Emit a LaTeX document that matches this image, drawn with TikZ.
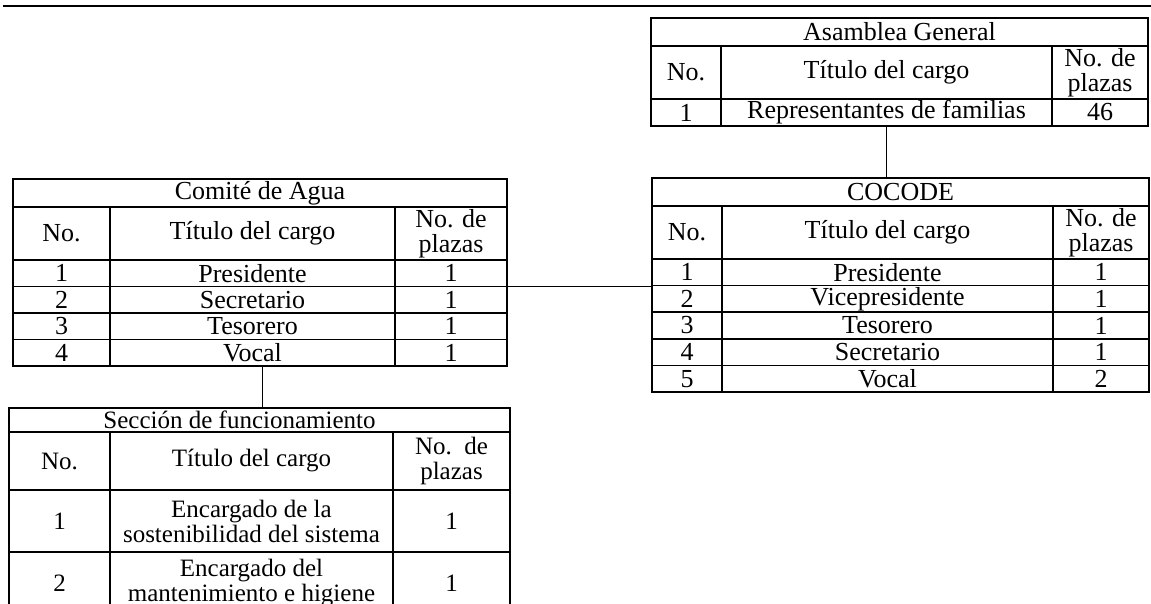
\documentclass[tikz,border=0pt]{standalone}
\usepackage{fontspec}
\setmainfont{Liberation Serif}
\newcommand\setcols[4]{\def\cA{#1}\def\cB{#2}\def\cC{#3}\def\cD{#4}}
\newcommand\tabtitle[4]{% name, ytop, height, text
  \node[cell,minimum width={(\cD-\cA)*1pt},minimum height={#3*1pt}] (#1) at (\cA,#2) {#4};}
\newcommand\tabrow[6]{% name, ytop, height, c1, c2, c3
  \node[cell,minimum width={(\cB-\cA)*1pt},minimum height={#3*1pt}] (#1-1) at (\cA,#2) {#4};
  \node[cell,minimum width={(\cC-\cB)*1pt},minimum height={#3*1pt}] (#1-2) at (\cB,#2) {#5};
  \node[cell,minimum width={(\cD-\cC)*1pt},minimum height={#3*1pt}] (#1-3) at (\cC,#2) {#6};}
\tikzset{
  cell/.style={draw,line width=1.5pt,rectangle,inner sep=0pt,outer sep=0pt,
    anchor=north west,align=center,font=\mainfnt},
  conn/.style={draw,line width=1.5pt},
  rule/.style={draw,line width=2pt},
}
\newcommand\mainfnt{\fontsize{26}{25}\selectfont}
\newcommand\secfnt{\fontsize{25}{25}\selectfont}
\begin{document}
\begin{tikzpicture}[x=1pt,y=-1pt]
\useasboundingbox (0,0) rectangle (1151,604);
\clip (0,0) rectangle (1151,604);
\coordinate (ruleL) at (3,6);
\coordinate (ruleR) at (1151,6);
\draw[rule] (ruleL) -- (ruleR);
% Asamblea General
\setcols{651}{721}{1052}{1148}
\tabtitle{A-t}{18}{28}{Asamblea General}
\tabrow{A-h}{46}{53}{No.}{Título del cargo}{No. de\\plazas}
\tabrow{A-r1}{99}{27}{1}{Representantes de familias}{46}
% COCODE
\setcols{652}{722}{1053}{1149}
\tabtitle{K-t}{178}{28}{COCODE}
\tabrow{K-h}{206}{53}{No.}{Título del cargo}{No. de\\plazas}
\tabrow{K-r1}{259}{26.6}{1}{Presidente}{1}
\tabrow{K-r2}{285.6}{26.6}{2}{Vicepresidente}{1}
\tabrow{K-r3}{312.2}{26.6}{3}{Tesorero}{1}
\tabrow{K-r4}{338.8}{26.6}{4}{Secretario}{1}
\tabrow{K-r5}{365.4}{26.6}{5}{Vocal}{2}
% Comite de Agua
\setcols{13}{110}{395}{507}
\tabtitle{C-t}{179}{28}{Comité de Agua}
\tabrow{C-h}{207}{53}{No.}{Título del cargo}{No. de\\plazas}
\tabrow{C-r1}{260}{26.5}{1}{Presidente}{1}
\tabrow{C-r2}{286.5}{26.5}{2}{Secretario}{1}
\tabrow{C-r3}{313}{26.5}{3}{Tesorero}{1}
\tabrow{C-r4}{339.5}{26.5}{4}{Vocal}{1}
% Seccion de funcionamiento
\tikzset{cell/.append style={font=\secfnt}}
\setcols{9}{110}{393}{510}
\tabtitle{S-t}{408}{24}{Sección de funcionamiento\hspace*{40pt}}
\tabrow{S-h}{432}{58}{No.}{Título del cargo}{No.~~de\\plazas}
\tabrow{S-r1}{490}{62}{1}{Encargado de la\\sostenibilidad del sistema}{1}
\tabrow{S-r2}{552}{62}{2}{Encargado del\\mantenimiento e higiene}{1}
% connectors
\draw[conn] (A-r1-2.south) -- (A-r1-2.south |- K-t.north);
\draw[conn] (C-r1-3.south east) -- (C-r1-3.south east -| K-r1-1.south west);
\draw[conn] ([xshift=10pt]C-r4-2.south) -- ([xshift=10pt]C-r4-2.south |- S-t.north);
\end{tikzpicture}
\end{document}
